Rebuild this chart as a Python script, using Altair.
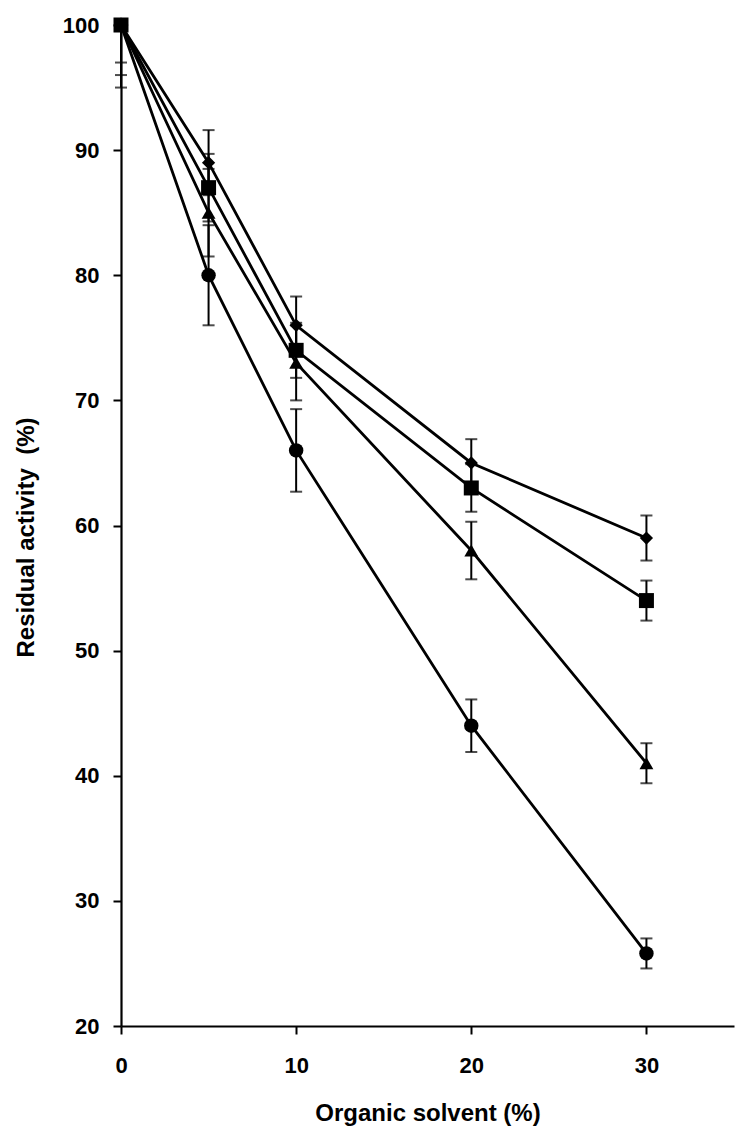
import altair as alt
import pandas as pd

# ---- data ----
solvent = [0, 5, 10, 20, 30]

diamond_vals = [100, 89, 76, 65, 59]
diamond_err = [3.0, 2.6, 2.3, 1.9, 1.8]

square_vals = [100, 87, 74, 63, 54]
square_err = [4.0, 2.7, 2.2, 1.9, 1.6]

triangle_vals = [100, 85, 73, 58, 41]
triangle_err = [5.0, 3.5, 3.0, 2.3, 1.6]

circle_vals = [100, 80, 66, 44, 25.8]
circle_err = [0.0, 4.0, 3.3, 2.1, 1.2]

series_names = ["diamond", "triangle", "circle", "square"]  # draw order (square on top)
series_vals = [diamond_vals, triangle_vals, circle_vals, square_vals]
series_errs = [diamond_err, triangle_err, circle_err, square_err]
shape_range = ["diamond", "triangle-up", "circle", "square"]
size_range = [175, 225, 175, 200]

rows = []
for name, vals, errs in zip(series_names, series_vals, series_errs):
    for x, v, e in zip(solvent, vals, errs):
        rows.append({"series": name, "solvent": x, "activity": v, "err": e})
df = pd.DataFrame(rows)

FONT = "Liberation Sans"
x_scale = alt.Scale(domain=[0, 35], nice=False, zero=False)
y_scale = alt.Scale(domain=[20, 100], nice=False, zero=False)

x_axis = alt.Axis(
    values=[0, 10, 20, 30], format="d", title="Organic solvent (%)",
    labelPadding=21, labelFlush=False, titleY=94, titleX=306.5,
    titleBaseline="alphabetic",
)
y_axis = alt.Axis(
    values=[20, 30, 40, 50, 60, 70, 80, 90, 100], format="d",
    title="Residual activity\u00a0 (%)", labelPadding=14,
    titleX=-95, titleY=512, titleAngle=270, titleBaseline="middle",
    titleAlign="center",
)

base = alt.Chart(df)

X = alt.X("solvent:Q", scale=x_scale, axis=x_axis)
Y = alt.Y("activity:Q", scale=y_scale, axis=y_axis)

lines = base.mark_line(color="black", strokeWidth=2.8).encode(
    x=X, y=Y, detail="series:N", order="solvent:Q"
)

rules = (
    base.transform_filter("datum.err > 0")
    .transform_calculate(
        lo="datum.activity - datum.err",
        hi="min(datum.activity + datum.err, 100)",
    )
    .mark_rule(color="black", strokeWidth=2)
    .encode(x=alt.X("solvent:Q", scale=x_scale), y=alt.Y("lo:Q", scale=y_scale), y2="hi:Q")
)

caps = (
    base.transform_filter("datum.err > 0")
    .transform_calculate(
        lo="datum.activity - datum.err",
        hi="datum.activity + datum.err",
    )
    .transform_fold(["lo", "hi"], as_=["end", "val"])
    .transform_filter("datum.val <= 100")
    .mark_tick(color="black", orient="horizontal", size=12, thickness=2)
    .encode(x=alt.X("solvent:Q", scale=x_scale), y=alt.Y("val:Q", scale=y_scale))
)

points = base.mark_point(filled=True, opacity=1, color="black", strokeWidth=0).encode(
    x=alt.X("solvent:Q", scale=x_scale),
    y=alt.Y("activity:Q", scale=y_scale),
    shape=alt.Shape("series:N", scale=alt.Scale(domain=series_names, range=shape_range), legend=None),
    size=alt.Size("series:N", scale=alt.Scale(domain=series_names, range=size_range), legend=None),
)

chart = (
    alt.layer(lines, rules, caps, points)
    .properties(
        width=613, height=1001,
        autosize=alt.AutoSizeParams(type="none"),
        padding={"left": 113, "top": 17, "right": 10, "bottom": 108},
        background="white",
    )
    .configure_view(stroke=None)
    .configure_axis(
        grid=False,
        domainColor="black", domainWidth=2.2,
        tickColor="black", tickWidth=2, tickSize=8,
        labelFont=FONT, labelFontSize=22, labelFontWeight="bold", labelColor="black",
        titleFont=FONT, titleFontSize=24, titleFontWeight="bold", titleColor="black",
    )
)

chart.save("out.html", embed_options={"renderer": "svg", "actions": False})
